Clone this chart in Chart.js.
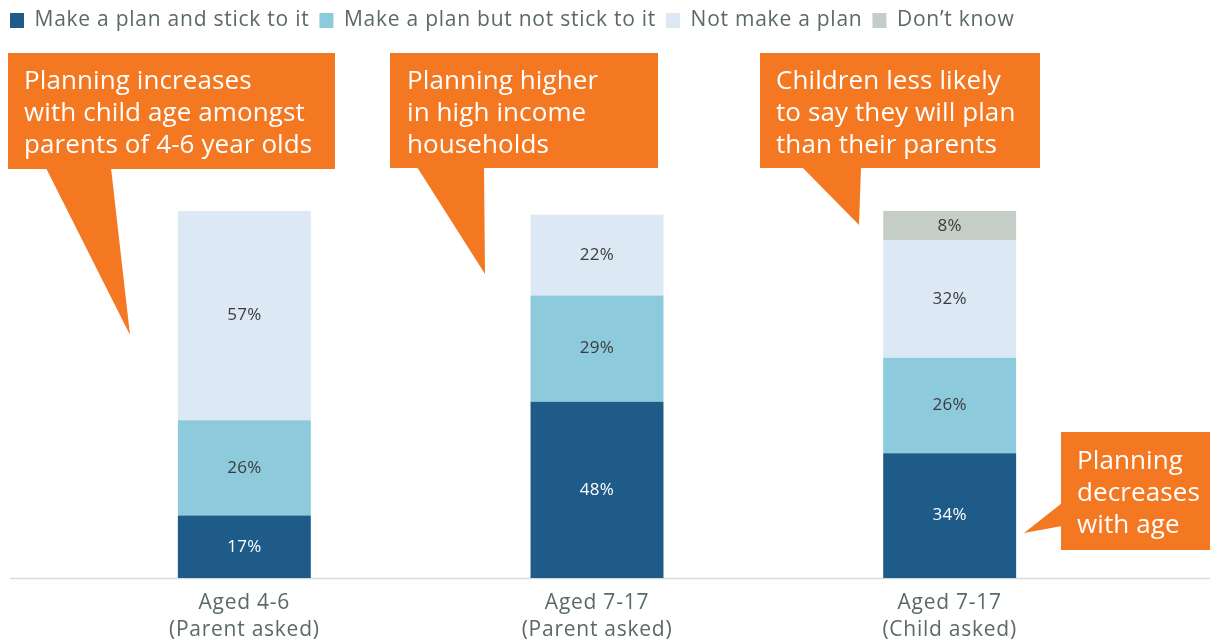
<!DOCTYPE html>
<html>
<head>
<meta charset="utf-8">
<script src="https://cdn.jsdelivr.net/npm/chart.js@4"></script>
<style>
  html, body { margin: 0; padding: 0; background: #fff; }
  #wrap { width: 1210px; height: 641px; position: relative; }
</style>
</head>
<body>
<div id="wrap"><canvas id="chart"></canvas></div>
<script>
// ===== DATA =====
const categories = [
  ["Aged 4-6", "(Parent asked)"],
  ["Aged 7-17", "(Parent asked)"],
  ["Aged 7-17", "(Child asked)"]
];
const seriesNames = ["Make a plan and stick to it", "Make a plan but not stick to it", "Not make a plan", "Don\u2019t know"];
const stickValues = [17, 48, 34];
const notStickValues = [26, 29, 26];
const noPlanValues = [57, 22, 32];
const dontKnowValues = [null, null, 8];
const seriesColors = ["#1F5B88", "#8DCADC", "#DCE8F4", "#C4CEC6"];
const labelColors = ["#ffffff", "#3b3b3b", "#3b3b3b", "#3b3b3b"];

// callout annotations (text boxes with tails)
const callouts = [
  { lines: ["Planning increases", "with child age amongst", "parents of 4-6 year olds"],
    box: [8, 53, 327, 116], tail: [[46, 168], [111, 168], [130, 335]], textX: 24, baseY: 89 },
  { lines: ["Planning higher", "in high income", "households"],
    box: [390, 53, 268, 115], tail: [[417, 167], [484, 167], [485, 274]], textX: 407, baseY: 89 },
  { lines: ["Children less likely", "to say they will plan", "than their parents"],
    box: [760, 53, 280, 115], tail: [[802, 167], [861, 167], [859, 225]], textX: 776, baseY: 89 },
  { lines: ["Planning", "decreases", "with age"],
    box: [1061, 432, 149, 118], tail: [[1062, 503], [1062, 526], [1024, 533]], textX: 1077, baseY: 469 }
];

const FONT = "'Open Sans', Lato, sans-serif";

// ===== PLUGINS =====
const spacing = {
  id: "spacing",
  beforeLayout(chart) { chart.ctx.letterSpacing = "0.75px"; },
  beforeDraw(chart) { chart.ctx.letterSpacing = "0.75px"; }
};

const legendSpace = {
  id: "legendSpace",
  beforeInit(chart) {
    const fit = chart.legend.fit;
    chart.legend.fit = function () {
      fit.bind(chart.legend)();
      this.height = 211;
    };
  }
};

const baseline = {
  id: "baseline",
  beforeDatasetsDraw(chart) {
    const ctx = chart.ctx;
    const y = chart.scales.y.getPixelForValue(0);
    ctx.save();
    ctx.strokeStyle = "#d6dcd9";
    ctx.lineWidth = 1.5;
    ctx.beginPath();
    ctx.moveTo(10, y + 0.5);
    ctx.lineTo(chart.width, y + 0.5);
    ctx.stroke();
    ctx.restore();
  }
};

const valueLabels = {
  id: "valueLabels",
  afterDatasetsDraw(chart) {
    const ctx = chart.ctx;
    ctx.save();
    ctx.letterSpacing = "0.3px";
    ctx.font = "17px " + FONT;
    ctx.textAlign = "center";
    ctx.textBaseline = "middle";
    chart.data.datasets.forEach((ds, di) => {
      chart.getDatasetMeta(di).data.forEach((bar, i) => {
        const v = ds.data[i];
        if (v == null) return;
        ctx.fillStyle = labelColors[di];
        ctx.fillText(v + "%", bar.x, (bar.y + bar.base) / 2);
      });
    });
    ctx.restore();
  }
};

const calloutBoxes = {
  id: "calloutBoxes",
  afterDraw(chart) {
    const ctx = chart.ctx;
    ctx.save();
    ctx.letterSpacing = "0.1px";
    callouts.forEach(c => {
      ctx.fillStyle = "#F47722";
      ctx.fillRect(c.box[0], c.box[1], c.box[2], c.box[3]);
      ctx.beginPath();
      ctx.moveTo(c.tail[0][0], c.tail[0][1]);
      ctx.lineTo(c.tail[1][0], c.tail[1][1]);
      ctx.lineTo(c.tail[2][0], c.tail[2][1]);
      ctx.closePath();
      ctx.fill();
      ctx.fillStyle = "#ffffff";
      ctx.font = "26px " + FONT;
      ctx.textAlign = "left";
      ctx.textBaseline = "alphabetic";
      c.lines.forEach((t, k) => ctx.fillText(t, c.textX, c.baseY + k * 32));
    });
    ctx.restore();
  }
};

// ===== CHART =====
const datasets = [stickValues, notStickValues, noPlanValues, dontKnowValues].map((d, i) => ({
  label: seriesNames[i],
  data: d,
  backgroundColor: seriesColors[i],
  borderWidth: 0,
  categoryPercentage: 1,
  barPercentage: 0.377
}));

new Chart(document.getElementById("chart"), {
  type: "bar",
  data: { labels: categories, datasets },
  options: {
    responsive: true,
    maintainAspectRatio: false,
    animation: false,
    layout: { padding: { left: 0, right: 84, top: 0, bottom: 0 } },
    plugins: {
      legend: {
        position: "top",
        align: "start",
        labels: {
          boxWidth: 14,
          boxHeight: 15,
          padding: 10,
          color: "#5b6a64",
          font: { family: FONT, size: 21 }
        }
      },
      tooltip: { enabled: false }
    },
    scales: {
      x: {
        stacked: true,
        grid: { display: false, drawTicks: false },
        border: { display: false },
        ticks: {
          color: "#5b6a64",
          padding: 11,
          font: { family: FONT, size: 21, lineHeight: 1.3 }
        },
        afterFit(scale) { scale.height = 63; }
      },
      y: {
        stacked: true,
        min: 0,
        max: 100,
        grid: { display: false },
        border: { display: false },
        ticks: { display: false },
        afterFit(scale) { scale.width = 68; }
      }
    }
  },
  plugins: [spacing, legendSpace, baseline, valueLabels, calloutBoxes]
});
</script>
</body>
</html>
